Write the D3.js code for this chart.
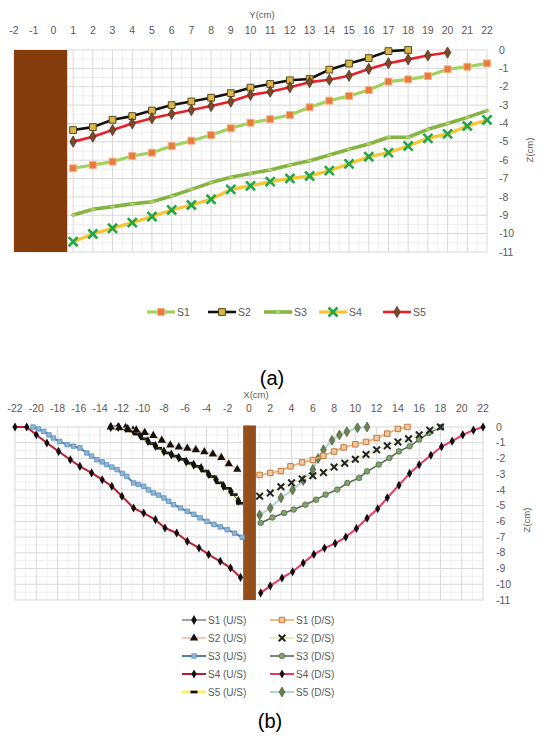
<!DOCTYPE html>
<html>
<head>
<meta charset="utf-8">
<script src="https://cdn.jsdelivr.net/npm/d3@7"></script>
<style>
  body { margin: 0; background: #fff; }
  svg { display: block; }
  text { font-family: "Liberation Sans", Arial, sans-serif; }
</style>
</head>
<body>
<svg id="fig" width="540" height="742"></svg>
<script>
// ---------------- Panel (a): profiles along Y ----------------
const aTicksX = [-2,-1,0,1,2,3,4,5,6,7,8,9,10,11,12,13,14,15,16,17,18,19,20,21,22];
const aTicksZ = [0,-1,-2,-3,-4,-5,-6,-7,-8,-9,-10,-11];
const aY  = [1,2,3,4,5,6,7,8,9,10,11,12,13,14,15,16,17,18,19,20,21,22];
const aS1 = [-6.44,-6.26,-6.08,-5.77,-5.59,-5.23,-4.94,-4.63,-4.26,-3.96,-3.77,-3.54,-3.12,-2.76,-2.5,-2.18,-1.72,-1.6,-1.42,-1.05,-0.91,-0.73];
const aS2 = [-4.36,-4.2,-3.8,-3.6,-3.3,-3.0,-2.8,-2.6,-2.35,-2.05,-1.85,-1.65,-1.58,-1.07,-0.74,-0.44,-0.06,0];
const aS3 = [-8.98,-8.67,-8.53,-8.38,-8.26,-7.95,-7.59,-7.22,-6.93,-6.72,-6.53,-6.26,-6.03,-5.72,-5.41,-5.12,-4.75,-4.75,-4.32,-4.0,-3.67,-3.3];
const aS4 = [-10.44,-10.02,-9.71,-9.4,-9.07,-8.71,-8.44,-8.13,-7.59,-7.4,-7.17,-6.99,-6.86,-6.57,-6.2,-5.81,-5.59,-5.23,-4.81,-4.57,-4.14,-3.81];
const aS5 = [-4.99,-4.72,-4.36,-4.0,-3.72,-3.48,-3.27,-3.05,-2.81,-2.45,-2.27,-2.03,-1.75,-1.62,-1.4,-1.03,-0.72,-0.51,-0.3,-0.14];
const aWall = { x0: -2, x1: 0.7, z0: 0, z1: -11 };

// ---------------- Panel (b): profiles along X ----------------
const bTicksX = [-22,-20,-18,-16,-14,-12,-10,-8,-6,-4,-2,0,2,4,6,8,10,12,14,16,18,20,22];
const bTicksZ = [0,-1,-2,-3,-4,-5,-6,-7,-8,-9,-10,-11];

const bS1usX = [-13,-12.3,-11.6,-10.9,-10.2,-9.5,-8.8,-8.0,-7.3,-6.6,-5.9,-5.2,-4.5,-3.8,-3.1,-2.4,-1.7,-1.0];
const bS1usZ = [0,0,-0.05,-0.2,-0.55,-0.9,-1.2,-1.55,-1.75,-1.95,-2.2,-2.4,-2.6,-3.0,-3.35,-3.75,-4.1,-4.7];
const bS1dsX = [1.0,2.0,3.0,3.9,5.0,6.0,7.0,8.0,8.9,10.0,11.0,12.0,13.0,14.0,14.9];
const bS1dsZ = [-3.05,-2.92,-2.8,-2.5,-2.25,-2.1,-1.83,-1.56,-1.3,-1.1,-0.95,-0.7,-0.42,-0.12,0];

const bS2usX = [-13,-12.2,-11.4,-10.6,-9.8,-9.0,-8.2,-7.4,-6.6,-5.8,-5.0,-4.2,-3.4,-2.6,-1.9,-1.1];
const bS2usZ = [0,-0.05,-0.12,-0.2,-0.35,-0.55,-0.85,-1.15,-1.28,-1.36,-1.45,-1.58,-1.72,-1.95,-2.35,-2.7];
const bS2dsX = [1,2,3,4,5,6,7,8,9,10,11,12,13,14,15,16,17,18];
const bS2dsZ = [-4.4,-4.2,-3.8,-3.55,-3.3,-3.1,-2.9,-2.55,-2.3,-2.05,-1.75,-1.45,-1.2,-0.95,-0.75,-0.5,-0.2,0];

const bS3usX = [-20.3,-19.8,-19.3,-18.8,-18.4,-17.8,-17.1,-16.5,-15.9,-15.25,-14.8,-14.3,-13.8,-13.4,-12.9,-12.4,-11.9,-11.5,-10.85,-10.4,-9.9,-9.45,-9.0,-8.5,-8.0,-7.55,-7.1,-6.45,-5.8,-5.2,-4.6,-3.95,-3.3,-2.7,-2.05,-1.35,-0.64];
const bS3usZ = [0,-0.12,-0.28,-0.5,-0.7,-0.92,-1.12,-1.22,-1.33,-1.65,-1.85,-2.08,-2.22,-2.39,-2.55,-2.71,-2.95,-3.14,-3.56,-3.65,-3.77,-4.0,-4.19,-4.33,-4.51,-4.72,-4.94,-5.15,-5.36,-5.55,-5.78,-6.0,-6.2,-6.35,-6.53,-6.75,-7.01];
const bS3dsX = [1.1,2.2,3.3,4.2,5.3,6.3,7.2,8.3,9.25,10.35,11.1,12.2,13.2,14.1,15.1,16.0,16.9,18.05];
const bS3dsZ = [-6.1,-5.75,-5.47,-5.25,-4.94,-4.62,-4.3,-3.98,-3.56,-3.24,-2.82,-2.39,-1.97,-1.55,-1.23,-0.8,-0.38,0];

const bS4usX = [-22,-20.9,-20.0,-19.0,-17.9,-16.8,-15.9,-14.8,-13.8,-12.9,-11.95,-10.85,-9.9,-8.8,-7.9,-6.8,-5.8,-4.7,-3.8,-2.7,-1.74,-0.8];
const bS4usZ = [0,0,-0.49,-1.02,-1.55,-2.08,-2.5,-2.92,-3.35,-3.77,-4.4,-5.15,-5.47,-5.89,-6.42,-6.74,-7.27,-7.69,-8.11,-8.54,-8.96,-9.56];
const bS4dsX = [1.1,2.0,3.1,4.1,5.1,6.1,7.1,8.1,9.1,10.1,11.1,12.1,13.0,14.1,15.1,16.0,17.1,18.1,19.1,20.1,21.1,22];
const bS4dsZ = [-10.55,-10.1,-9.6,-9.2,-8.65,-8.1,-7.7,-7.4,-7.0,-6.45,-5.8,-5.2,-4.5,-3.7,-2.95,-2.4,-1.8,-1.25,-0.9,-0.5,-0.2,0];

const bS5usX = [-12.7,-12.0,-11.3,-10.6,-9.9,-9.2,-8.5,-7.7,-7.0,-6.3,-5.6,-4.9,-4.2,-3.5,-2.8,-2.1,-1.4,-0.9];
const bS5usZ = [0,-0.1,-0.25,-0.45,-0.75,-1.05,-1.35,-1.65,-1.85,-2.05,-2.3,-2.5,-2.8,-3.15,-3.55,-3.9,-4.3,-4.85];
const bS5dsX = [1.0,2.0,3.0,4.1,5.1,6.0,6.5,7.0,7.8,8.5,9.2,10.2,11.1];
const bS5dsZ = [-5.6,-5.15,-4.5,-4.0,-3.4,-2.7,-2.0,-1.45,-0.85,-0.5,-0.3,-0.05,0];

const bWall = { x0: -0.55, x1: 0.65, z0: 0.1, z1: -11 };

// ---------------- drawing helpers ----------------
const svg = d3.select("#fig");
svg.append("rect").attr("width", 540).attr("height", 742).attr("fill", "#fff");

const dashSym = { draw(ctx, size) { const w = Math.sqrt(size) * 1.5, h = w * 0.38; ctx.rect(-w / 2, -h / 2, w, h); } };
const zip = (xs, zs) => xs.map((x, i) => [x, zs[i]]);

function grid(g, x, y, xMinor, xMajor, zMinor, zMajor) {
  const [x0, x1] = x.range(), [y0, y1] = y.range();
  g.selectAll(".vmin").data(xMinor).join("line")
    .attr("x1", d => x(d)).attr("x2", d => x(d)).attr("y1", y0).attr("y2", y1)
    .attr("stroke", "#efefef").attr("stroke-width", 1);
  g.selectAll(".hmin").data(zMinor).join("line")
    .attr("y1", d => y(d)).attr("y2", d => y(d)).attr("x1", x0).attr("x2", x1)
    .attr("stroke", "#efefef").attr("stroke-width", 1);
  g.selectAll(".vmaj").data(xMajor).join("line")
    .attr("x1", d => x(d)).attr("x2", d => x(d)).attr("y1", y0).attr("y2", y1)
    .attr("stroke", "#d9d9d9").attr("stroke-width", 1);
  g.selectAll(".hmaj").data(zMajor).join("line")
    .attr("y1", d => y(d)).attr("y2", d => y(d)).attr("x1", x0).attr("x2", x1)
    .attr("stroke", "#d9d9d9").attr("stroke-width", 1);
}

function drawSeries(g, x, y, s) {
  const pts = zip(s.xs, s.zs);
  g.append("path").datum(pts)
    .attr("fill", "none").attr("stroke", s.line).attr("stroke-width", s.lw)
    .attr("stroke-linejoin", "round").attr("stroke-linecap", "round")
    .attr("d", d3.line().x(d => x(d[0])).y(d => y(d[1])));
  if (!s.sym) return;
  const path = d3.symbol().type(s.sym).size(s.size)();
  g.selectAll(null).data(pts).join("path")
    .attr("transform", d => `translate(${x(d[0])},${y(d[1])})`)
    .attr("d", path)
    .attr("fill", s.fill || "none")
    .attr("stroke", s.stroke || "none")
    .attr("stroke-width", s.sw || 0.8);
}

function legendItem(g, cx, cy, s, label, halfLen, fontSize) {
  g.append("line").attr("x1", cx - halfLen).attr("x2", cx + halfLen).attr("y1", cy).attr("y2", cy)
    .attr("stroke", s.line).attr("stroke-width", s.lw);
  if (s.sym) {
    g.append("path").attr("transform", `translate(${cx},${cy})`)
      .attr("d", d3.symbol().type(s.sym).size(s.size)())
      .attr("fill", s.fill || "none").attr("stroke", s.stroke || "none").attr("stroke-width", s.sw || 0.8);
  }
  g.append("text").attr("x", cx + halfLen + 2).attr("y", cy).attr("dy", "0.35em")
    .attr("font-size", fontSize).attr("fill", "#595959").text(label);
}

// ---------------- panel (a) ----------------
{
  const x = d3.scaleLinear().domain([-2, 22]).range([14, 487]);
  const y = d3.scaleLinear().domain([0, -11]).range([50, 252]);
  const g = svg.append("g");

  grid(g, x, y,
    [-1.5,-0.5,0.5,1.5,2.5,3.5,4.5,5.5,6.5,7.5,8.5,9.5,10.5,11.5,12.5,13.5,14.5,15.5,16.5,17.5,18.5,19.5,20.5,21.5],
    aTicksX,
    [-0.5,-1.5,-2.5,-3.5,-4.5,-5.5,-6.5,-7.5,-8.5,-9.5,-10.5],
    aTicksZ);

  g.append("rect")
    .attr("x", x(aWall.x0)).attr("y", y(aWall.z0))
    .attr("width", x(aWall.x1) - x(aWall.x0)).attr("height", y(aWall.z1) - y(aWall.z0))
    .attr("fill", "#843c0c");

  const series = [
    { name: "S1", xs: aY, zs: aS1, line: "#9fd35e", lw: 3.2, sym: d3.symbolSquare, size: 48, fill: "#ea793e", stroke: "#f4b283", sw: 1 },
    { name: "S2", xs: aY.slice(0, aS2.length), zs: aS2, line: "#111111", lw: 2.6, sym: d3.symbolSquare, size: 46, fill: "#d8b64a", stroke: "#5a4a1a", sw: 1 },
    { name: "S3", xs: aY, zs: aS3, line: "#86b443", lw: 3.6, sym: dashSym, size: 10, fill: "#b8d36a" },
    { name: "S4", xs: aY, zs: aS4, line: "#f7c531", lw: 3.2, sym: d3.symbolTimes, size: 55, stroke: "#23a548", sw: 2.6 },
    { name: "S5", xs: aY.slice(0, aS5.length), zs: aS5, line: "#e8202a", lw: 2.6, sym: d3.symbolDiamond, size: 36, fill: "#7b4a2c", stroke: "#57301a", sw: 0.8 }
  ];
  series.forEach(s => drawSeries(g, x, y, s));

  g.selectAll(".tx").data(aTicksX).join("text")
    .attr("x", d => x(d)).attr("y", 30).attr("dy", "0.35em").attr("text-anchor", "middle")
    .attr("font-size", 10.5).attr("fill", "#595959").text(d => d);
  g.selectAll(".tz").data(aTicksZ).join("text")
    .attr("x", 499).attr("y", d => y(d)).attr("dy", "0.35em").attr("text-anchor", "start")
    .attr("font-size", 10.5).attr("fill", "#595959").text(d => d);
  g.append("text").attr("x", 262).attr("y", 15).attr("dy", "0.35em").attr("text-anchor", "middle")
    .attr("font-size", 9.5).attr("fill", "#595959").text("Y(cm)");
  g.append("text").attr("transform", "translate(530,150) rotate(-90)").attr("dy", "0.35em")
    .attr("text-anchor", "middle").attr("font-size", 9.5).attr("fill", "#595959").text("Z(cm)");

  const legX = [161, 222, 278, 333, 397];
  series.forEach((s, i) => legendItem(g, legX[i], 312, s, s.name, 14, 10.5));

  svg.append("text").attr("x", 272).attr("y", 378).attr("dy", "0.35em").attr("text-anchor", "middle")
    .attr("font-family", "Liberation Serif, Times New Roman, serif").attr("font-size", 20).attr("fill", "#000")
    .text("(a)");
}

// ---------------- panel (b) ----------------
{
  const x = d3.scaleLinear().domain([-22, 22]).range([15, 483]);
  const y = d3.scaleLinear().domain([0, -11]).range([427, 600]);
  const g = svg.append("g");

  grid(g, x, y,
    [-21,-19,-17,-15,-13,-11,-9,-7,-5,-3,-1,1,3,5,7,9,11,13,15,17,19,21],
    bTicksX,
    [-0.5,-1.5,-2.5,-3.5,-4.5,-5.5,-6.5,-7.5,-8.5,-9.5,-10.5],
    bTicksZ);

  g.append("rect")
    .attr("x", x(bWall.x0)).attr("y", y(bWall.z0))
    .attr("width", x(bWall.x1) - x(bWall.x0)).attr("height", y(bWall.z1) - y(bWall.z0))
    .attr("fill", "#94501c");

  const s = {
    s1us: { label: "S1 (U/S)", xs: bS1usX, zs: bS1usZ, line: "#444444", lw: 1, sym: d3.symbolDiamond, size: 28, fill: "#111" },
    s1ds: { label: "S1 (D/S)", xs: bS1dsX, zs: bS1dsZ, line: "#f2a765", lw: 1.6, sym: d3.symbolSquare, size: 30, fill: "#ecc9a2", stroke: "#c8793a", sw: 1 },
    s2us: { label: "S2 (U/S)", xs: bS2usX, zs: bS2usZ, line: "#f4c8b4", lw: 2, sym: d3.symbolTriangle, size: 30, fill: "#111" },
    s2ds: { label: "S2 (D/S)", xs: bS2dsX, zs: bS2dsZ, line: "#e4eec2", lw: 2, sym: d3.symbolTimes, size: 30, stroke: "#222", sw: 2 },
    s3us: { label: "S3 (U/S)", xs: bS3usX, zs: bS3usZ, line: "#4f80aa", lw: 2, sym: d3.symbolSquare, size: 20, fill: "#8fb6d9", stroke: "#5f8fbd", sw: 0.8 },
    s3ds: { label: "S3 (D/S)", xs: bS3dsX, zs: bS3dsZ, line: "#5c6a58", lw: 1.6, sym: d3.symbolCircle, size: 24, fill: "#80a56c", stroke: "#4c6a44", sw: 0.8 },
    s4us: { label: "S4 (U/S)", xs: bS4usX, zs: bS4usZ, line: "#b52030", lw: 2, sym: d3.symbolDiamond, size: 24, fill: "#111" },
    s4ds: { label: "S4 (D/S)", xs: bS4dsX, zs: bS4dsZ, line: "#ea3660", lw: 2, sym: d3.symbolDiamond, size: 24, fill: "#111" },
    s5us: { label: "S5 (U/S)", xs: bS5usX, zs: bS5usZ, line: "#f6f06c", lw: 3, sym: dashSym, size: 22, fill: "#111" },
    s5ds: { label: "S5 (D/S)", xs: bS5dsX, zs: bS5dsZ, line: "#a8d9cd", lw: 2, sym: d3.symbolDiamond, size: 28, fill: "#6d7f55", stroke: "#53643e", sw: 0.8 }
  };
  [s.s4us, s.s4ds, s.s3us, s.s3ds, s.s5ds, s.s1ds, s.s2ds, s.s5us, s.s1us, s.s2us]
    .forEach(d => drawSeries(g, x, y, d));

  g.selectAll(".tx").data(bTicksX).join("text")
    .attr("x", d => x(d)).attr("y", 408).attr("dy", "0.35em").attr("text-anchor", "middle")
    .attr("font-size", 10.5).attr("fill", "#595959").text(d => d);
  g.selectAll(".tz").data(bTicksZ).join("text")
    .attr("x", 496).attr("y", d => y(d)).attr("dy", "0.35em").attr("text-anchor", "start")
    .attr("font-size", 10.5).attr("fill", "#595959").text(d => d);
  g.append("text").attr("x", 256).attr("y", 395).attr("dy", "0.35em").attr("text-anchor", "middle")
    .attr("font-size", 9.5).attr("fill", "#595959").text("X(cm)");
  g.append("text").attr("transform", "translate(527,520) rotate(-90)").attr("dy", "0.35em")
    .attr("text-anchor", "middle").attr("font-size", 9.5).attr("fill", "#595959").text("Z(cm)");

  const rows = [[s.s1us, s.s1ds], [s.s2us, s.s2ds], [s.s3us, s.s3ds], [s.s4us, s.s4ds], [s.s5us, s.s5ds]];
  const rowY = [620, 638, 656, 674, 692];
  rows.forEach((r, i) => {
    legendItem(g, 194, rowY[i], r[0], r[0].label, 12, 10);
    legendItem(g, 282, rowY[i], r[1], r[1].label, 12, 10);
  });

  svg.append("text").attr("x", 270).attr("y", 721).attr("dy", "0.35em").attr("text-anchor", "middle")
    .attr("font-family", "Liberation Serif, Times New Roman, serif").attr("font-size", 20).attr("fill", "#000")
    .text("(b)");
}
</script>
</body>
</html>
